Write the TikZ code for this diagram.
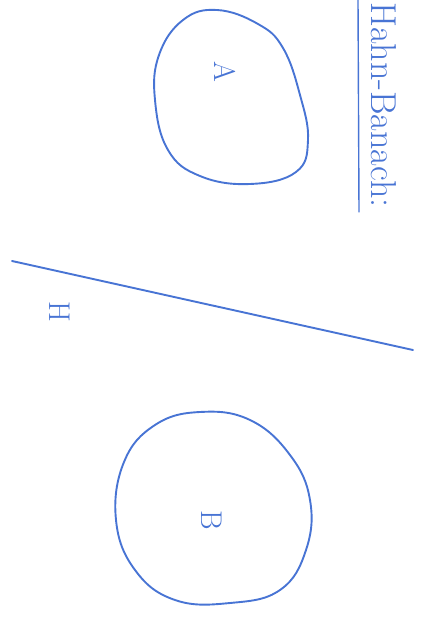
\documentclass[tikz,border=0pt]{standalone}
\usepackage{tikz}
\usetikzlibrary{positioning, calc}
\definecolor{penblue}{RGB}{72, 116, 212}
\tikzset{
	pen/.style={draw=penblue, line width=1.9pt, line cap=round, line join=round},
	letter/.style={text=penblue, rotate=-90, font=\fontsize{30}{34}\selectfont}
}

\begin{document}
\begin{tikzpicture}[x=1pt,y=-1pt]
	\useasboundingbox (0,0) rectangle (422,620);
	% title, written sideways and underlined
	\node[letter, anchor=base west, font=\fontsize{36}{40}\selectfont, inner sep=0pt] (title) at (371,2) {Hahn-Banach:};
	\draw[pen, line width=1.4pt] (358,0)--(359,212);
	% set A
	\draw[pen] plot[smooth cycle, tension=0.7] coordinates {(217,10) (258,24) (283,48) (300,95) (308,140) (296,172) (250,184) (200,176) (168,150) (155,100) (159,55) (183,20)};
	\node[letter] (labA) at (225,72) {A};
	% hyperplane H
	\draw[pen] (12,261)--(413,350);
	\node[letter] (labH) at (60,312) {H};
	% set B
	\draw[pen] plot[smooth cycle, tension=0.7] coordinates {(200,412) (250,420) (290,455) (310,500) (306,550) (280,590) (230,603) (175,600) (135,570) (116,520) (124,462) (155,425)};
	\node[letter] (labB) at (212,520) {B};
\end{tikzpicture}
\end{document}
